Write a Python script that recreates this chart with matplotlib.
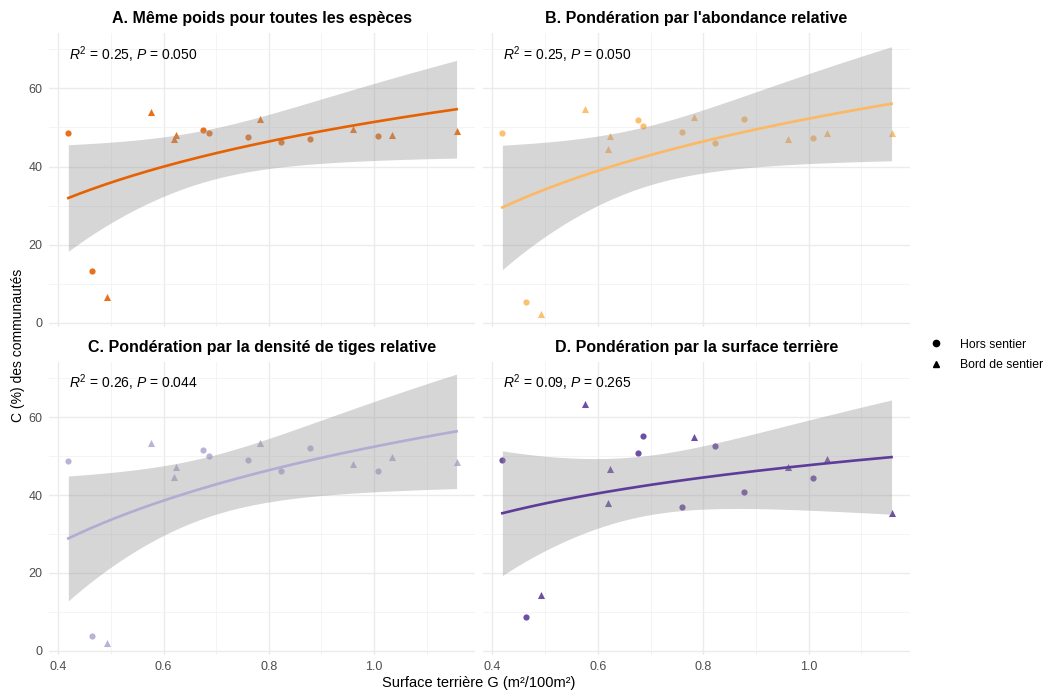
import numpy as np
import matplotlib
matplotlib.use("Agg")
import matplotlib.pyplot as plt
from matplotlib.ticker import MultipleLocator
from matplotlib.lines import Line2D

plt.rcParams['font.family'] = ['Liberation Sans', 'DejaVu Sans']
plt.rcParams['mathtext.fontset'] = 'custom'
plt.rcParams['mathtext.rm'] = 'Liberation Sans'
plt.rcParams['mathtext.it'] = 'Liberation Sans:italic'
plt.rcParams['mathtext.bf'] = 'Liberation Sans:bold'

# ---- data ----
G = [0.419, 0.4635, 0.492, 0.5765, 0.619, 0.623, 0.6755, 0.6855,
     0.760, 0.7825, 0.823, 0.8775, 0.960, 1.0075, 1.035, 1.157]
position = ['Hors', 'Hors', 'Bord', 'Bord', 'Bord', 'Bord', 'Hors', 'Hors',
            'Hors', 'Bord', 'Hors', 'Hors', 'Bord', 'Hors', 'Bord', 'Bord']

C_A = [48.6, 13.2, 6.6, 53.9, 47.0, 48.0, 49.3, 48.7,
       47.6, 52.3, 46.3, 47.0, 49.7, 47.9, 48.2, 49.2]
C_B = [48.6, 5.3, 2.3, 54.7, 44.6, 47.8, 52.0, 50.5,
       48.8, 52.7, 46.1, 52.1, 47.0, 47.4, 48.7, 48.6]
C_C = [48.8, 3.9, 2.1, 53.4, 44.7, 47.2, 51.5, 50.1,
       48.9, 53.5, 46.1, 52.0, 47.9, 46.2, 49.8, 48.6]
C_D = [49.0, 8.7, 14.3, 63.5, 37.9, 46.6, 50.9, 55.1,
       36.9, 55.0, 52.7, 40.9, 47.1, 44.4, 49.2, 35.3]

titles = ["A. Même poids pour toutes les espèces",
          "B. Pondération par l'abondance relative",
          "C. Pondération par la densité de tiges relative",
          "D. Pondération par la surface terrière"]
stats_text = [r"$R^2$ = 0.25, $P$ = 0.050",
              r"$R^2$ = 0.25, $P$ = 0.050",
              r"$R^2$ = 0.26, $P$ = 0.044",
              r"$R^2$ = 0.09, $P$ = 0.265"]
colors = ["#E66101", "#FDB863", "#B2ABD2", "#5E3C99"]
series = [C_A, C_B, C_C, C_D]
legend_labels = ["Hors sentier", "Bord de sentier"]

# ---- figure ----
W, H = 1048, 691
fig = plt.figure(figsize=(W / 100, H / 100), dpi=100)

def px_axes(l, t, r, b):
    return fig.add_axes([l / W, 1 - b / H, (r - l) / W, (b - t) / H])

boxes = [(49, 33, 475, 327), (483, 33, 910, 327),
         (49, 362, 475, 655), (483, 362, 910, 655)]

x = np.array(G)
lx = np.log(x)
pos = np.array(position)
T_CRIT = 2.1448  # t(0.975, df=14)

for i, (box, yv, col, title, st) in enumerate(zip(boxes, series, colors, titles, stats_text)):
    ax = px_axes(*box)
    y = np.array(yv)
    ax.set_xlim(0.3823, 1.192)
    ax.set_ylim(-1.1, 74.2)
    for s in ax.spines.values():
        s.set_visible(False)
    ax.xaxis.set_major_locator(MultipleLocator(0.2))
    ax.xaxis.set_minor_locator(MultipleLocator(0.1))
    ax.yaxis.set_major_locator(MultipleLocator(20))
    ax.yaxis.set_minor_locator(MultipleLocator(10))
    ax.grid(which='major', color='#EBEBEB', linewidth=1.0)
    ax.grid(which='minor', color='#F2F2F2', linewidth=0.6)
    ax.set_axisbelow(True)
    ax.tick_params(which='both', length=0, labelsize=9, labelcolor='#4D4D4D', pad=4.5)
    ax.set_xticks([0.4, 0.6, 0.8, 1.0])
    ax.set_xticklabels(['0.4', '0.6', '0.8', '1.0'])
    if i < 2:
        ax.tick_params(labelbottom=False)
    if i % 2 == 1:
        ax.tick_params(labelleft=False)

    # points
    m = pos == 'Hors'
    ax.scatter(x[m], y[m], marker='o', s=20, color=col, alpha=0.9, linewidths=0, zorder=2)
    ax.scatter(x[~m], y[~m], marker='^', s=26, color=col, alpha=0.9, linewidths=0, zorder=2)

    # log fit with 95% CI
    b, a = np.polyfit(lx, y, 1)
    n = len(x)
    resid = y - (a + b * lx)
    s_err = np.sqrt(np.sum(resid ** 2) / (n - 2))
    xx = np.linspace(x.min(), x.max(), 200)
    lxx = np.log(xx)
    yy = a + b * lxx
    se = s_err * np.sqrt(1 / n + (lxx - lx.mean()) ** 2 / np.sum((lx - lx.mean()) ** 2))
    ax.fill_between(xx, yy - T_CRIT * se, yy + T_CRIT * se, color='#999999', alpha=0.4,
                    linewidth=0, zorder=3)
    ax.plot(xx, yy, color=col, linewidth=1.9, zorder=4)

    ax.text(0.42, 67.4, st, fontsize=10, va='baseline', ha='left', color='black', zorder=5)
    ax.set_title(title, fontsize=11.5, fontweight='bold', pad=7)

fig.text(479 / W, 1 - 683 / H, "Surface terrière G (m²/100m²)", ha='center', va='center', fontsize=10.5)
fig.text(18 / W, 1 - 345 / H, "C (%) des communautés", ha='center', va='center', rotation=90, fontsize=10)

handles = [Line2D([], [], marker='o', linestyle='none', color='black', markersize=4.5),
           Line2D([], [], marker='^', linestyle='none', color='black', markersize=5)]
fig.legend(handles, legend_labels, loc='center left', bbox_to_anchor=(921 / W, 1 - 355 / H),
           frameon=False, fontsize=8.8, handletextpad=1.2, handlelength=1.6,
           labelspacing=0.7, borderaxespad=0)

fig.savefig("out.png", dpi=100)
